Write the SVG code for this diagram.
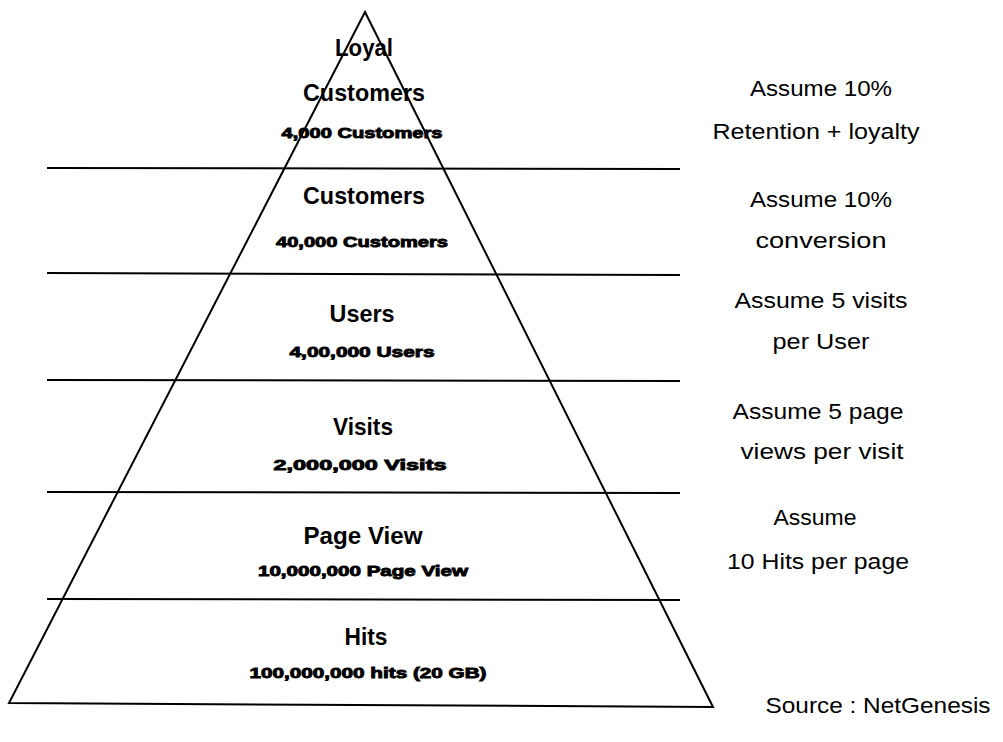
<svg xmlns="http://www.w3.org/2000/svg" width="1003" height="742" viewBox="0 0 1003 742">
<style>
.t{font-family:"Liberation Sans",Arial,sans-serif;font-weight:bold;font-size:24px;fill:#000;text-anchor:middle}
.s{font-family:"Liberation Sans",Arial,sans-serif;font-weight:bold;font-size:15px;fill:#000;stroke:#000;stroke-width:0.9;text-anchor:middle}
.r{font-family:"Liberation Sans",Arial,sans-serif;font-size:22px;fill:#000;text-anchor:middle}
.ln{stroke:#000;stroke-width:2;fill:none}
</style>
<rect width="1003" height="742" fill="#fff"/>
<g id="connectors">
<polygon class="ln" points="365,12 9,703 713,707" stroke-linejoin="miter"/>
<line class="ln" x1="47" y1="168" x2="680" y2="169"/>
<line class="ln" x1="47" y1="273" x2="680" y2="275"/>
<line class="ln" x1="47" y1="380" x2="680" y2="381"/>
<line class="ln" x1="47" y1="492" x2="680" y2="493"/>
<line class="ln" x1="47" y1="599" x2="680" y2="600"/>
</g>
<g id="loyal">
<text class="t" x="364" y="56" textLength="58" lengthAdjust="spacingAndGlyphs">Loyal</text>
<text class="t" x="364" y="101" textLength="122" lengthAdjust="spacingAndGlyphs">Customers</text>
<text class="s" x="362" y="138" textLength="161" lengthAdjust="spacingAndGlyphs">4,000 Customers</text>
</g>
<g id="customers">
<text class="t" x="364" y="204" textLength="122" lengthAdjust="spacingAndGlyphs">Customers</text>
<text class="s" x="362" y="247" textLength="172" lengthAdjust="spacingAndGlyphs">40,000 Customers</text>
</g>
<g id="users">
<text class="t" x="362" y="322" textLength="65" lengthAdjust="spacingAndGlyphs">Users</text>
<text class="s" x="362" y="357" textLength="145" lengthAdjust="spacingAndGlyphs">4,00,000 Users</text>
</g>
<g id="visits">
<text class="t" x="363" y="435" textLength="60" lengthAdjust="spacingAndGlyphs">Visits</text>
<text class="s" x="360" y="470" textLength="173" lengthAdjust="spacingAndGlyphs">2,000,000 Visits</text>
</g>
<g id="pageview">
<text class="t" x="363" y="544" textLength="119" lengthAdjust="spacingAndGlyphs">Page View</text>
<text class="s" x="363" y="576" textLength="210" lengthAdjust="spacingAndGlyphs">10,000,000 Page View</text>
</g>
<g id="hits">
<text class="t" x="366" y="645" textLength="43" lengthAdjust="spacingAndGlyphs">Hits</text>
<text class="s" x="368" y="678" textLength="237" lengthAdjust="spacingAndGlyphs">100,000,000 hits (20 GB)</text>
</g>
<g id="notes">
<text class="r" x="821" y="96" textLength="142" lengthAdjust="spacingAndGlyphs">Assume 10%</text>
<text class="r" x="816" y="139" textLength="207" lengthAdjust="spacingAndGlyphs">Retention + loyalty</text>
<text class="r" x="821" y="207" textLength="142" lengthAdjust="spacingAndGlyphs">Assume 10%</text>
<text class="r" x="821" y="248" textLength="131" lengthAdjust="spacingAndGlyphs">conversion</text>
<text class="r" x="821" y="308" textLength="173" lengthAdjust="spacingAndGlyphs">Assume 5 visits</text>
<text class="r" x="821" y="349" textLength="97" lengthAdjust="spacingAndGlyphs">per User</text>
<text class="r" x="818" y="419" textLength="171" lengthAdjust="spacingAndGlyphs">Assume 5 page</text>
<text class="r" x="822" y="459" textLength="163" lengthAdjust="spacingAndGlyphs">views per visit</text>
<text class="r" x="815" y="525" textLength="83" lengthAdjust="spacingAndGlyphs">Assume</text>
<text class="r" x="818" y="569" textLength="182" lengthAdjust="spacingAndGlyphs">10 Hits per page</text>
<text class="r" x="878" y="713" textLength="225" lengthAdjust="spacingAndGlyphs">Source : NetGenesis</text>
</g>
</svg>
